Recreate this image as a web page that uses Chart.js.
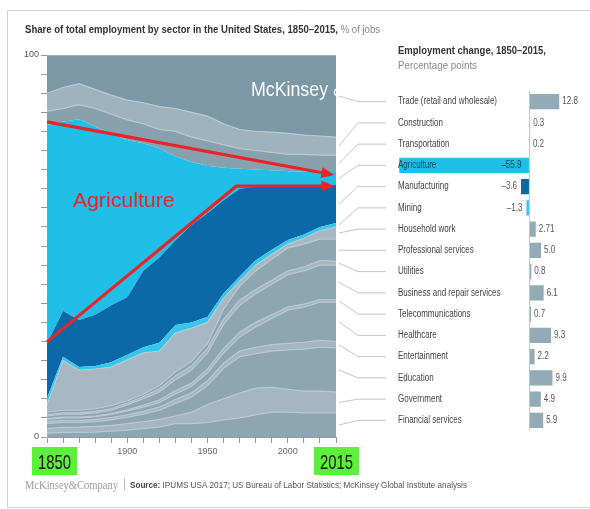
<!DOCTYPE html>
<html>
<head>
<meta charset="utf-8">
<script src="https://cdn.jsdelivr.net/npm/chart.js@4.4.0/dist/chart.umd.min.js"></script>
<style>
  html, body { margin: 0; padding: 0; background: #fff; }
  #wrap { position: relative; width: 590px; height: 509px; overflow: hidden; }
  #main { position: absolute; left: 0; top: 0; }
  #changeBox { position: absolute; left: 392px; top: 91px; width: 198px; height: 340px; }
</style>
</head>
<body>
<div id="wrap">
  <canvas id="main" width="590" height="509"></canvas>
  <div id="changeBox"><canvas id="change" width="198" height="340"></canvas></div>
</div>
<script>
// ---- data: share of jobs (%), stacked bottom -> top ----
const years = ['1850','1860','1870','1880','1890','1900','1910','1920','1930','1940',
               '1950','1960','1970','1980','1990','2000','2005','2010','2015'];
const xTickLabels = ['1900','1950','2000'];
const yTickLabels = [0, 100];

const financial     = [1.0,1.2,1.2,1.3,1.5,1.8,2.2,2.6,3.5,3.5,3.8,4.5,5.0,5.8,6.5,6.5,6.3,6.3,6.3];
const government    = [1.2,1.3,1.4,1.5,1.5,1.7,1.8,2.0,2.0,3.0,4.7,5.5,6.5,7.0,6.5,6.0,5.7,5.7,5.5];
const education     = [1.3,1.3,1.2,1.2,1.5,1.7,2.0,2.4,3.3,4.0,5.0,8.0,9.5,9.0,9.5,10.3,11.0,11.5,11.5];
const entertainment = [0.5,0.5,0.5,0.6,0.6,0.6,0.7,0.8,1.0,1.1,1.2,1.3,1.5,1.7,1.7,1.7,1.8,1.8,1.7];
const healthcare    = [0.6,0.7,0.7,0.7,0.8,1.0,1.1,1.2,1.5,1.7,2.1,2.7,3.7,5.3,6.8,8.7,9.2,10.0,10.3];
const telecom       = [0.2,0.2,0.2,0.2,0.2,0.3,0.5,0.7,0.8,0.8,1.0,1.2,1.2,1.2,1.0,0.8,0.8,0.7,0.7];
const business      = [0.7,0.8,0.8,0.8,0.9,1.3,1.7,2.1,2.9,3.4,4.2,6.3,7.1,7.5,8.0,8.5,8.7,9.0,9.0];
const utilities     = [0.3,0.3,0.3,0.4,0.4,0.5,0.6,0.8,1.0,1.1,1.2,1.3,1.3,1.1,1.0,1.0,1.0,1.2,1.0];
const professional  = [0.7,0.7,0.7,0.7,0.8,0.6,0.6,0.9,1.0,1.2,1.3,2.7,3.7,4.9,5.5,6.0,6.0,5.6,5.8];
const household     = [1.9,13.0,10.5,10.4,10.1,10.7,10.8,9.0,10.2,8.7,5.5,2.8,1.3,1.5,1.3,1.0,1.5,2.2,3.2];
const mining        = [1.8,1.0,0.8,0.8,1.3,1.3,1.5,2.2,2.1,1.5,1.5,1.3,1.2,1.3,1.2,1.1,1.0,1.0,1.0];
const manufacturing = [14.3,12.0,12.3,13.4,14.9,15.1,20.0,22.3,22.2,25.5,27.1,24.4,23.0,19.2,16.5,13.9,13.0,11.0,10.0];
const agriculture   = [57.2,49.5,52.6,49.2,45.0,41.1,33.4,28.6,21.9,16.5,12.4,8.5,5.2,4.5,4.3,4.1,3.5,3.4,3.4];
const transportation= [3.6,3.5,3.8,4.8,5.0,5.3,5.1,4.9,6.6,6.5,6.5,6.0,5.3,5.0,4.7,4.4,4.5,4.4,4.4];
const construction  = [4.7,5.5,5.5,5.0,5.0,5.2,5.5,6.0,6.0,6.5,6.5,5.5,5.0,5.0,5.3,5.5,5.0,5.0,4.7];
const trade         = [10.0,8.5,7.5,9.0,10.5,11.8,12.5,13.5,14.0,15.0,16.0,18.0,19.5,20.0,20.2,20.5,21.0,21.2,21.5];

// ---- data: employment change 1850-2015, percentage points ----
const sectors = ['Trade (retail and wholesale)','Construction','Transportation','Agriculture',
  'Manufacturing','Mining','Household work','Professional services','Utilities',
  'Business and repair services','Telecommunications','Healthcare','Entertainment',
  'Education','Government','Financial services'];
const change = [12.8,0.3,0.2,-55.9,-3.6,-1.3,2.71,5.0,0.8,6.1,0.7,9.3,2.2,9.9,4.9,5.9];
const changeText = ['12.8','0.3','0.2','–55.9','–3.6','–1.3','2.71','5.0','0.8','6.1','0.7','9.3','2.2','9.9','4.9','5.9'];

// annotations (in data units: category index, % of jobs)
const arrowPaths = [
  [[0, 82.5], [17.9, 68.6]],
  [[0, 24.9], [11.8, 65.7], [17.9, 65.7]]
];

// ---- styles ----
const G1 = '#8ea5b2', G2 = '#a3b6c1';
const areaSeries = [
  ['Financial services', financial, G1],
  ['Government', government, G2],
  ['Education', education, G1],
  ['Entertainment', entertainment, G2],
  ['Healthcare', healthcare, G1],
  ['Telecommunications', telecom, G2],
  ['Business and repair services', business, G1],
  ['Utilities', utilities, G2],
  ['Professional services', professional, G1],
  ['Household work', household, '#a6b8c3'],
  ['Mining', mining, '#34c6ec'],
  ['Manufacturing', manufacturing, '#0a69a6'],
  ['Agriculture', agriculture, '#20bfe7'],
  ['Transportation', transportation, '#88a1af'],
  ['Construction', construction, '#9fb3bf'],
  ['Trade (retail and wholesale)', trade, '#7c97a6']
];
const barColor = {
  'Agriculture': '#1fc0e8', 'Manufacturing': '#0a68a5', 'Mining': '#35c6ec'
};

// draw text runs squeezed horizontally (to width, or by factor)
function drawRuns(ctx, x, y, runs, width, factor) {
  let total = 0;
  runs.forEach(r => { ctx.font = r.font; r.w = ctx.measureText(r.text).width; total += r.w; });
  const f = width ? width / total : (factor || 1);
  ctx.save();
  ctx.translate(x, y);
  ctx.scale(f, 1);
  ctx.textBaseline = 'alphabetic';
  ctx.textAlign = 'left';
  let cx = 0;
  runs.forEach(r => { ctx.font = r.font; ctx.fillStyle = r.color; ctx.fillText(r.text, cx, 0); cx += r.w; });
  ctx.restore();
}

// ---- right: employment change bars ----
const labelPlugin = {
  id: 'changeLabels',
  afterDatasetsDraw(chart) {
    const ctx = chart.ctx, xs = chart.scales.x, ys = chart.scales.y;
    ctx.save();
    ctx.font = '10px "Liberation Sans", Arial, sans-serif';
    const k = 99 / ctx.measureText(sectors[0]).width;
    ctx.textBaseline = 'middle';
    sectors.forEach((s, i) => {
      const y = ys.getPixelForValue(i);
      ctx.textAlign = 'left';
      ctx.fillStyle = s === 'Agriculture' ? '#1f3f4c' : '#444';
      ctx.fillText(s, 6, y, ctx.measureText(s).width * k);
      const v = change[i], t = changeText[i];
      const w = ctx.measureText(t).width * k;
      ctx.fillStyle = s === 'Agriculture' ? '#1f3f4c' : '#555';
      if (v >= 0) {
        ctx.textAlign = 'left';
        ctx.fillText(t, xs.getPixelForValue(v) + 3, y, w);
      } else {
        ctx.textAlign = 'right';
        const x = v < -10 ? xs.getPixelForValue(0) - 8 : xs.getPixelForValue(v) - 4;
        ctx.fillText(t, x, y, w);
      }
    });
    ctx.restore();
  }
};

const barChart = new Chart(document.getElementById('change'), {
  type: 'bar',
  data: {
    labels: sectors,
    datasets: [{
      data: change,
      backgroundColor: sectors.map(s => barColor[s] || '#93aab7'),
      barPercentage: 0.72,
      categoryPercentage: 1
    }]
  },
  options: {
    indexAxis: 'y',
    responsive: false,
    animation: false,
    layout: { padding: 0 },
    plugins: { legend: { display: false }, tooltip: { enabled: false } },
    scales: {
      x: {
        min: -59, max: 26,
        ticks: { display: false, stepSize: 10 },
        grid: { drawTicks: false, color: c => (c.tick && c.tick.value === 0) ? '#c9c9c9' : 'rgba(0,0,0,0)' },
        border: { display: false },
        afterFit: s => { s.height = 0; }
      },
      y: { display: false }
    }
  },
  plugins: [labelPlugin]
});

// ---- left: stacked area chart ----
const decor = {
  id: 'decor',
  afterDraw(chart) {
    const ctx = chart.ctx, a = chart.chartArea, xs = chart.scales.x, ys = chart.scales.y;
    const last = years.length - 1;
    ctx.save();

    // watermark, cut off at the plot edge
    ctx.save();
    ctx.beginPath(); ctx.rect(a.left, a.top, a.right - a.left, a.bottom - a.top); ctx.clip();
    drawRuns(ctx, xs.getPixelForValue(12.7), ys.getPixelForValue(89.3),
      [{ text: 'McKinsey & Company', font: '20px "Liberation Sans", Arial, sans-serif', color: 'rgba(255,255,255,0.96)' }],
      0, 0.89);
    ctx.restore();

    // red arrows
    ctx.strokeStyle = '#e8232a'; ctx.fillStyle = '#e8232a'; ctx.lineWidth = 3.2;
    ctx.lineJoin = 'round';
    arrowPaths.forEach(p => {
      const pts = p.map(q => [xs.getPixelForValue(q[0]), ys.getPixelForValue(q[1])]);
      const [x1, y1] = pts[pts.length - 2], [x2, y2] = pts[pts.length - 1];
      const ang = Math.atan2(y2 - y1, x2 - x1), L = 13, W = 5.5;
      ctx.beginPath();
      ctx.moveTo(pts[0][0], pts[0][1]);
      for (let i = 1; i < pts.length - 1; i++) ctx.lineTo(pts[i][0], pts[i][1]);
      ctx.lineTo(x2 - (L - 2) * Math.cos(ang), y2 - (L - 2) * Math.sin(ang));
      ctx.stroke();
      ctx.beginPath();
      ctx.moveTo(x2, y2);
      ctx.lineTo(x2 - L * Math.cos(ang) + W * Math.sin(ang), y2 - L * Math.sin(ang) - W * Math.cos(ang));
      ctx.lineTo(x2 - L * Math.cos(ang) - W * Math.sin(ang), y2 - L * Math.sin(ang) + W * Math.cos(ang));
      ctx.closePath(); ctx.fill();
    });
    drawRuns(ctx, xs.getPixelForValue(1.6), ys.getPixelForValue(62.3) + 8,
      [{ text: 'Agriculture', font: '21px "Liberation Sans", Arial, sans-serif', color: '#e8232a' }], 102);

    // leader lines to the sector labels
    const box = document.getElementById('changeBox');
    ctx.strokeStyle = '#c4c4c4'; ctx.lineWidth = 1;
    areaSeries.forEach((s, i) => {
      const top = chart.getDatasetMeta(i).data[last].y;
      const bot = i === 0 ? ys.getPixelForValue(0) : chart.getDatasetMeta(i - 1).data[last].y;
      const ly = box.offsetTop + barChart.scales.y.getPixelForValue(sectors.indexOf(s[0]));
      ctx.beginPath();
      ctx.moveTo(a.right + 3, (top + bot) / 2);
      ctx.lineTo(a.right + 22, ly);
      ctx.lineTo(a.right + 50, ly);
      ctx.stroke();
    });

    // titles
    drawRuns(ctx, 25, 33, [
      { text: 'Share of total employment by sector in the United States, 1850–2015, ', font: 'bold 11px "Liberation Sans", Arial, sans-serif', color: '#333' },
      { text: '% of jobs', font: '11px "Liberation Sans", Arial, sans-serif', color: '#888' }
    ], 355);
    drawRuns(ctx, 398, 54, [
      { text: 'Employment change, 1850–2015,', font: 'bold 11px "Liberation Sans", Arial, sans-serif', color: '#333' }
    ], 148);
    drawRuns(ctx, 398, 69, [
      { text: 'Percentage points', font: '11px "Liberation Sans", Arial, sans-serif', color: '#888' }
    ], 79);

    // green year boxes
    const boxes = [[years[0], xs.getPixelForValue(0) + 7], [years[last], xs.getPixelForValue(last)]];
    boxes.forEach(([t, cx]) => {
      ctx.fillStyle = '#5cf03c';
      ctx.fillRect(cx - 22, 447, 45, 28);
      ctx.font = '21px "Liberation Sans", Arial, sans-serif';
      const w = ctx.measureText(t).width;
      drawRuns(ctx, cx - 16, 469, [{ text: t, font: ctx.font, color: '#111' }], Math.min(w, 33));
    });

    // footer
    drawRuns(ctx, 25, 489, [{ text: 'McKinsey&Company', font: '13px "Liberation Serif", "Times New Roman", serif', color: '#9c9c9c' }], 93);
    ctx.fillStyle = '#c0c0c0'; ctx.fillRect(124, 478, 1, 13);
    drawRuns(ctx, 130, 488, [
      { text: 'Source:', font: 'bold 9px "Liberation Sans", Arial, sans-serif', color: '#444' },
      { text: ' IPUMS USA 2017; US Bureau of Labor Statistics; McKinsey Global Institute analysis', font: '9px "Liberation Sans", Arial, sans-serif', color: '#555' }
    ], 337);

    // frame
    ctx.strokeStyle = '#d2d2d2'; ctx.lineWidth = 1;
    ctx.strokeRect(7.5, 10.5, 600, 497);
    ctx.restore();
  }
};

new Chart(document.getElementById('main'), {
  type: 'line',
  data: {
    labels: years,
    datasets: areaSeries.map((s, i) => ({
      label: s[0],
      data: s[1],
      backgroundColor: s[2],
      borderColor: ['Agriculture', 'Manufacturing', 'Mining'].includes(s[0]) ? s[2] : '#b9c9d1',
      borderWidth: ['Agriculture', 'Manufacturing', 'Mining'].includes(s[0]) ? 0 : 1.2,
      pointRadius: 0,
      tension: 0,
      fill: i === 0 ? 'origin' : '-1'
    }))
  },
  options: {
    responsive: false,
    animation: false,
    layout: { padding: { left: 0, top: 55, right: 254, bottom: 0 } },
    plugins: { legend: { display: false }, tooltip: { enabled: false } },
    scales: {
      x: {
        z: 1,
        offset: false,
        ticks: {
          autoSkip: false, maxRotation: 0, color: '#666', padding: 3,
          font: { size: 9, family: '"Liberation Sans", Arial, sans-serif' },
          callback: (v, i) => xTickLabels.includes(years[i]) ? years[i] : ''
        },
        grid: {
          color: c => (c.tick && xTickLabels.includes(years[c.tick.value])) ? 'rgba(55,75,88,0.75)' : 'rgba(0,0,0,0)',
          tickColor: '#9a9a9a', tickLength: 6, lineWidth: 1
        },
        border: { display: true, color: '#8d9ca5' },
        afterFit: s => { s.height = 72; }
      },
      y: {
        stacked: true,
        min: 0, max: 100,
        ticks: {
          stepSize: 5, autoSkip: false, color: '#555', padding: 2,
          font: { size: 9, family: '"Liberation Sans", Arial, sans-serif' },
          callback: v => yTickLabels.includes(v) ? v : ''
        },
        grid: { drawOnChartArea: false, tickColor: '#9a9a9a', tickLength: 6 },
        border: { display: true, color: '#c8c8c8' },
        afterFit: s => { s.width = 47; }
      }
    }
  },
  plugins: [decor]
});
</script>
</body>
</html>
